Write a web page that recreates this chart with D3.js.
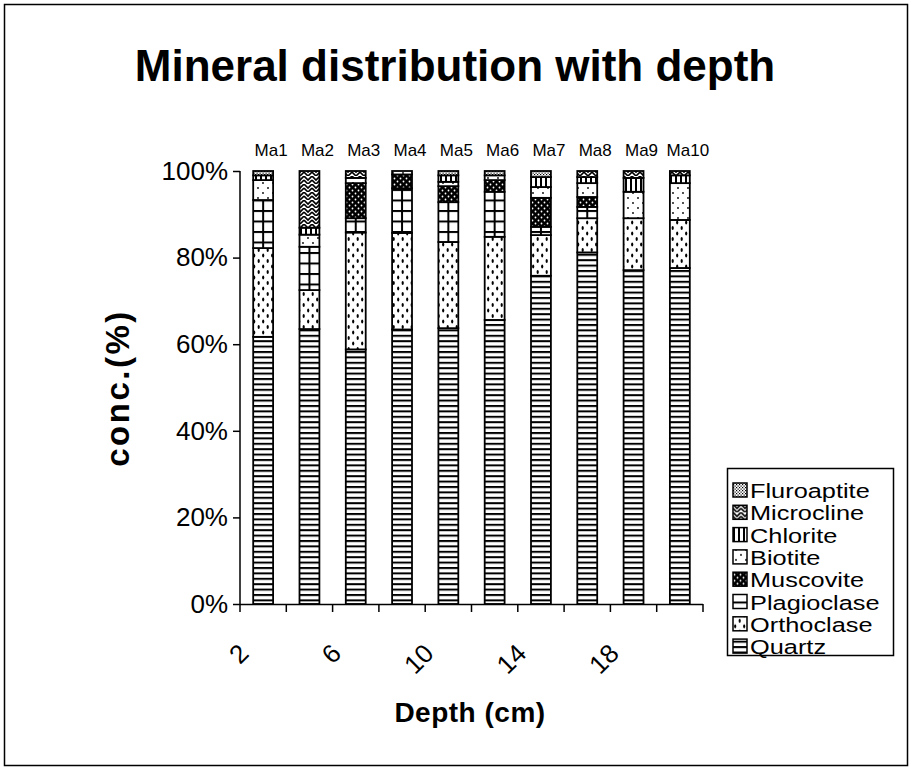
<!DOCTYPE html>
<html>
<head>
<meta charset="utf-8">
<script src="https://cdn.jsdelivr.net/npm/d3@7"></script>
<style>
  html, body { margin: 0; padding: 0; background: #fff; }
  svg { display: block; }
  text { font-family: "Liberation Sans", Arial, sans-serif; fill: #000; }
</style>
</head>
<body>
<svg id="chart" width="913" height="777"></svg>
<script>
// Depth of each sample (cm) and the sample names printed above the bars
const depths = [2, 4, 6, 8, 10, 12, 14, 16, 18, 20];
const sampleNames = ["Ma1", "Ma2", "Ma3", "Ma4", "Ma5", "Ma6", "Ma7", "Ma8", "Ma9", "Ma10"];
const labelledDepths = [2, 6, 10, 14, 18];
const yTicks = [0, 20, 40, 60, 80, 100];

// Mineral shares (%) per sample, stacked bottom to top
const quartz      = [61.7, 63.5, 58.8, 63.4, 63.7, 65.6, 75.8, 81.2, 77.1, 77.6];
const orthoclase  = [20.5,  9.0, 27.0, 22.3, 19.9, 19.2,  9.4,  7.9, 12.0, 11.1];
const plagioclase = [11.1, 10.0,  3.3, 10.3,  9.2, 10.4,  1.9,  2.6,  0.0,  0.0];
const muscovite   = [ 0.0,  0.0,  8.1,  3.2,  3.7,  2.7,  6.7,  2.3,  0.0,  0.0];
const biotite     = [ 4.6,  2.8,  1.2,  0.8,  1.0,  1.1,  2.5,  3.2,  6.1,  8.5];
const chlorite    = [ 1.1,  1.6,  0.0,  0.0,  1.5,  0.0,  2.3,  1.4,  3.2,  1.8];
const microcline  = [ 0.0, 13.1,  1.6,  0.0,  0.0,  0.0,  0.0,  1.4,  1.6,  1.0];
const fluroaptite = [ 1.0,  0.0,  0.0,  0.0,  1.0,  1.0,  1.4,  0.0,  0.0,  0.0];

const seriesNames = ["Quartz", "Orthoclase", "Plagioclase", "Muscovite",
                     "Biotite", "Chlorite", "Microcline", "Fluroaptite"];
const seriesValues = [quartz, orthoclase, plagioclase, muscovite,
                      biotite, chlorite, microcline, fluroaptite];

const rows = depths.map((d, i) => {
  const r = { depth: d, name: sampleNames[i] };
  seriesNames.forEach((s, k) => { r[s] = seriesValues[k][i]; });
  return r;
});

const svg = d3.select("#chart");
const plot = { left: 240, right: 703, top: 171, bottom: 604 };

const x = d3.scaleBand().domain(depths)
  .range([plot.left, plot.right]).paddingInner(0.57).paddingOuter(0.285);
const y = d3.scaleLinear().domain([0, 100]).range([plot.bottom, plot.top]);

// ---------- fill patterns (black & white hatching) ----------
const defs = svg.append("defs");
function pat(id, w, h, draw, px = 0, py = 0) {
  const p = defs.append("pattern").attr("id", id)
    .attr("patternUnits", "userSpaceOnUse")
    .attr("width", w).attr("height", h).attr("x", px).attr("y", py);
  p.append("rect").attr("width", w).attr("height", h).attr("fill", "#fff");
  draw(p);
}
pat("p-Quartz", 8, 5.4, p => {
  p.append("rect").attr("y", 0).attr("width", 8).attr("height", 2).attr("fill", "#000");
});
pat("p-Orthoclase", 9, 11, p => {
  p.append("ellipse").attr("cx", 2.2).attr("cy", 2.5).attr("rx", 1.1).attr("ry", 2).attr("fill", "#000");
  p.append("ellipse").attr("cx", 6.7).attr("cy", 8).attr("rx", 1.1).attr("ry", 2).attr("fill", "#000");
});
const cx0 = x(depths[0]) + x.bandwidth() / 2;
pat("p-Plagioclase", x.step(), 10.5, p => {
  p.append("rect").attr("x", -1).attr("width", 2).attr("height", 10.5).attr("fill", "#000");
  p.append("rect").attr("x", x.step() - 1).attr("width", 2).attr("height", 10.5).attr("fill", "#000");
  p.append("rect").attr("y", 0).attr("width", x.step()).attr("height", 2).attr("fill", "#000");
}, cx0, 0);
pat("p-Muscovite", 6, 6, p => {
  p.append("rect").attr("width", 6).attr("height", 6).attr("fill", "#000");
  p.append("circle").attr("cx", 1.5).attr("cy", 1.5).attr("r", 0.9).attr("fill", "#fff");
  p.append("circle").attr("cx", 4.5).attr("cy", 4.5).attr("r", 0.9).attr("fill", "#fff");
});
pat("p-Biotite", 10, 10, p => {
  p.append("circle").attr("cx", 3).attr("cy", 3).attr("r", 0.9).attr("fill", "#000");
  p.append("circle").attr("cx", 8).attr("cy", 8).attr("r", 0.9).attr("fill", "#000");
});
pat("p-Chlorite", 5, 4, p => {
  p.append("rect").attr("x", 0).attr("width", 2).attr("height", 4).attr("fill", "#000");
});
pat("p-Microcline", 8, 8, p => {
  p.append("path").attr("d", "M0,0 L4,4 L8,0 M0,4 L4,8 L8,4")
    .attr("fill", "none").attr("stroke", "#000").attr("stroke-width", 1.6);
});
pat("p-Fluroaptite", 3, 3, p => {
  p.append("rect").attr("x", 0).attr("y", 0).attr("width", 1.2).attr("height", 1.2).attr("fill", "#000");
  p.append("rect").attr("x", 1.5).attr("y", 1.5).attr("width", 1.2).attr("height", 1.2).attr("fill", "#000");
});

// ---------- outer frame ----------
svg.append("rect").attr("x", 4.5).attr("y", 4.5).attr("width", 903).attr("height", 761)
  .attr("fill", "none").attr("stroke", "#000").attr("stroke-width", 1.5);

// ---------- title ----------
svg.append("text").attr("x", 455).attr("y", 81).attr("text-anchor", "middle")
  .style("font-size", "44px").style("font-weight", "bold")
  .text("Mineral distribution with depth");

// ---------- stacked bars ----------
const stack = d3.stack().keys(seriesNames)(rows);
svg.append("g").selectAll("g").data(stack).join("g")
  .attr("fill", d => `url(#p-${d.key})`)
  .selectAll("rect").data(d => d.filter(s => s[1] - s[0] > 0)).join("rect")
  .attr("x", d => x(d.data.depth))
  .attr("width", x.bandwidth())
  .attr("y", d => y(d[1]))
  .attr("height", d => y(d[0]) - y(d[1]))
  .attr("stroke", "#000").attr("stroke-width", 1.8);

// sample names above bars
svg.append("g").selectAll("text").data(rows).join("text")
  .attr("x", d => x(d.depth) + x.bandwidth() / 2 + 8)
  .attr("y", 156).attr("text-anchor", "middle")
  .style("font-size", "17px")
  .text(d => d.name);

// ---------- y axis ----------
const yAxis = svg.append("g").attr("transform", `translate(${plot.left},0)`)
  .call(d3.axisLeft(y).tickValues(yTicks).tickFormat(d => d + "%").tickSize(7).tickPadding(5));
yAxis.select(".domain").attr("stroke", "#000").attr("stroke-width", 1.5).attr("d", `M0,${plot.top}V${plot.bottom}`);
yAxis.selectAll(".tick line").attr("stroke", "#000").attr("stroke-width", 1.5);
yAxis.selectAll(".tick text").style("font-size", "26px").style("font-family", "Liberation Sans, Arial, sans-serif");

svg.append("text")
  .attr("transform", `translate(129,388) rotate(-90)`)
  .attr("text-anchor", "middle")
  .style("font-size", "33px").style("font-weight", "bold").style("letter-spacing", "2.5px")
  .text("conc.(%)");

// ---------- x axis (ticks between categories) ----------
const xg = svg.append("g");
xg.append("line").attr("x1", plot.left).attr("x2", plot.right)
  .attr("y1", plot.bottom + 0.5).attr("y2", plot.bottom + 0.5)
  .attr("stroke", "#000").attr("stroke-width", 1.5);
const bounds = depths.map(d => x(d) - x.step() * x.paddingInner() / 2 ).concat([plot.right]);
bounds[0] = plot.left;
xg.selectAll("line.tk").data(bounds).join("line").attr("class", "tk")
  .attr("x1", d => d).attr("x2", d => d)
  .attr("y1", plot.bottom).attr("y2", plot.bottom + 8)
  .attr("stroke", "#000").attr("stroke-width", 1.5);
xg.selectAll("text").data(labelledDepths).join("text")
  .attr("transform", d => `translate(${x(d) + x.bandwidth() / 2 - 13},655) rotate(-45)`)
  .attr("text-anchor", "end")
  .style("font-size", "26px")
  .text(d => d);

svg.append("text").attr("x", 470).attr("y", 722).attr("text-anchor", "middle")
  .style("font-size", "28px").style("font-weight", "bold").style("letter-spacing", "0.5px")
  .text("Depth (cm)");

// ---------- legend ----------
const legend = svg.append("g");
legend.append("rect").attr("x", 727.5).attr("y", 468.5).attr("width", 166).attr("height", 187)
  .attr("fill", "#fff").attr("stroke", "#000").attr("stroke-width", 1.5);
const legendOrder = seriesNames.slice().reverse();
const li = legend.selectAll("g.item").data(legendOrder).join("g").attr("class", "item")
  .attr("transform", (d, i) => `translate(733,${490 + i * 22.3})`);
li.append("rect").attr("x", 0).attr("y", -7).attr("width", 14).attr("height", 14)
  .attr("fill", d => `url(#p-${d})`).attr("stroke", "#000").attr("stroke-width", 1.5);
li.append("text")
  .attr("transform", "translate(17,8) scale(1.3,1)")
  .style("font-size", "19.5px")
  .text(d => d);
</script>
</body>
</html>
